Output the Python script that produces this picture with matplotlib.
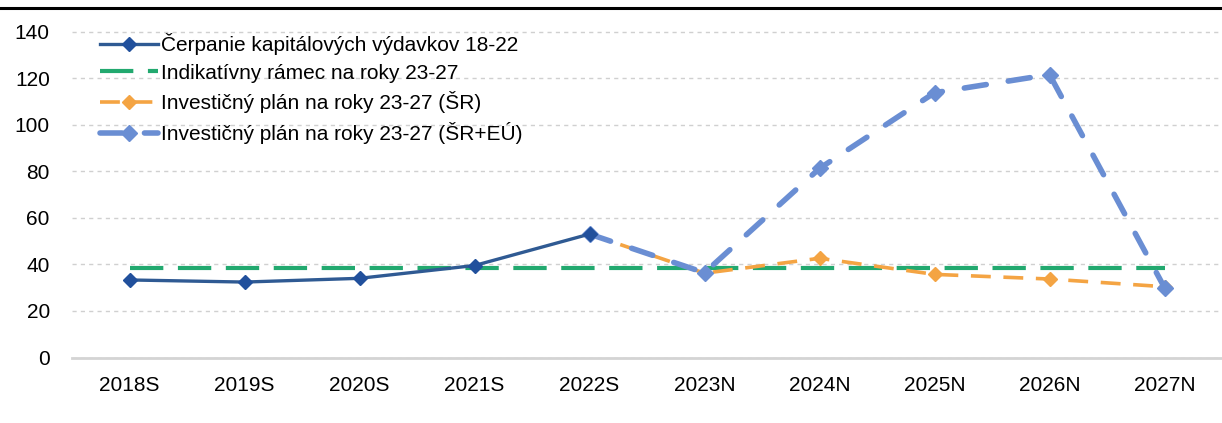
import matplotlib.pyplot as plt
from matplotlib.lines import Line2D

plt.rcParams['font.family'] = ['Liberation Sans', 'DejaVu Sans']

years = ['2018S', '2019S', '2020S', '2021S', '2022S', '2023N', '2024N', '2025N', '2026N', '2027N']
cerpanie = [33.3, 32.4, 34.0, 39.5, 53.0]            # 2018-2022
ramec = [38.4] * 10                                   # flat frame
plan_sr = [53.0, 36.2, 42.6, 35.7, 33.7, 30.4]        # 2022-2027
plan_sreu = [53.0, 36.4, 81.2, 113.7, 121.5, 30.0]    # 2022-2027

x_all = list(range(len(years)))
x_hist = x_all[:5]
x_plan = x_all[4:]

fig = plt.figure(figsize=(12.22, 4.23), dpi=100)
ax = fig.add_axes([72/1222, 1 - 357.5/423, 1 - 72/1222, (357.5 - 31.5)/423])

ax.plot(x_all, ramec, color='#22A96F', lw=3, dashes=(8, 3.5), zorder=2,
        label='Indikatívny rámec na roky 23-27')
ax.plot(x_plan, plan_sr, color='#F4A443', lw=2.6, dashes=(5.5, 3.5), marker='D', ms=7,
        zorder=3, label='Investičný plán na roky 23-27 (ŠR)')
ax.plot(x_plan, plan_sreu, color='#6A8ED3', lw=4, dashes=(4, 4), dash_capstyle='round',
        marker='D', ms=8, zorder=4, label='Investičný plán na roky 23-27 (ŠR+EÚ)')
ax.plot(x_hist, cerpanie, color='#2F5A93', lw=2.4, marker='D', ms=7, mfc='#21509C',
        mec='#21509C', zorder=5, label='Čerpanie kapitálových výdavkov 18-22')

ax.set_xlim(-0.5, 9.5)
ax.set_ylim(0, 140)
ax.set_yticks(range(0, 141, 20))
ax.set_xticks(x_all)
ax.set_xticklabels(years)
ax.tick_params(axis='both', length=0, labelsize=15, colors='black')
ax.tick_params(axis='x', pad=13)
ax.tick_params(axis='y', pad=16)

ax.grid(axis='y', color='#d0d0d0', ls=(0, (3, 3)), lw=1)
ax.set_axisbelow(True)
for s in ['top', 'right', 'left']:
    ax.spines[s].set_visible(False)
ax.spines['bottom'].set_color('#d4d4d4')
ax.spines['bottom'].set_linewidth(2)

h, l = ax.get_legend_handles_labels()
order = [3, 0, 1, 2]
ax.legend([h[i] for i in order], [l[i] for i in order], loc='upper left',
          bbox_to_anchor=(0.008, 1.053), frameon=False, fontsize=15,
          handlelength=2.8, handletextpad=0.15, labelspacing=0.42)

fig.add_artist(Line2D([0, 1], [1 - 8/423, 1 - 8/423], color='black', lw=2.2,
                      transform=fig.transFigure))

fig.savefig('out.png', dpi=100)
